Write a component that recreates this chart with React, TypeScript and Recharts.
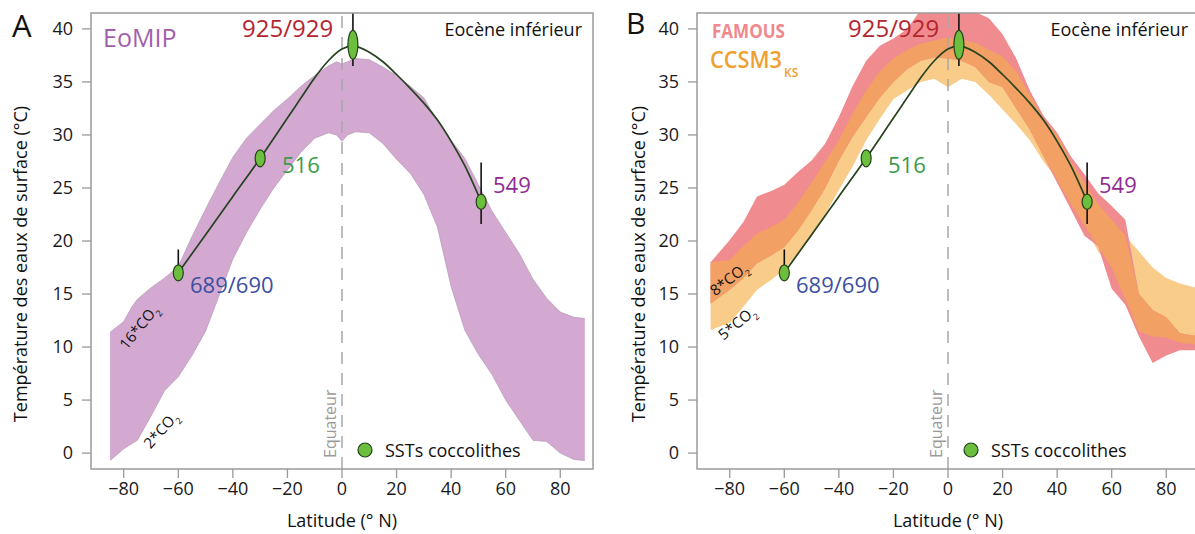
import React from "react";
import {
  ComposedChart,
  Area,
  Line,
  Scatter,
  ErrorBar,
  XAxis,
  YAxis,
  ReferenceLine,
} from "recharts";

const FONT = "'Open Sans', 'Noto Sans', sans-serif";

/* ── Panel A : EoMIP envelope ─────────────────────────────── */
const LAT_A = [-85, -80, -77, -75, -70, -65, -60, -55, -50, -45, -40, -35, -30, -25, -20, -15, -10, -5, -2, 0, 2, 5, 10, 15, 20, 25, 30, 35, 40, 45, 50, 55, 60, 65, 70, 75, 80, 85, 89];
const EOMIP_LOW = [-0.7, 0.4, 0.9, 1.2, 3.5, 5.9, 7.2, 9.2, 11.5, 14.9, 18.3, 20.8, 23.0, 25.0, 26.7, 28.4, 29.7, 30.2, 30.0, 29.4, 30.0, 30.3, 30.2, 29.2, 27.7, 26.4, 24.4, 21.3, 15.7, 11.6, 9.3, 7.4, 5.0, 3.1, 1.2, 1.1, 0.0, -0.6, -0.7];
const EOMIP_HIGH = [11.4, 12.4, 13.8, 14.5, 15.6, 16.5, 17.6, 20.4, 23.0, 25.5, 27.9, 29.7, 31.0, 32.3, 33.4, 34.6, 35.6, 36.5, 36.9, 36.7, 36.9, 37.2, 37.1, 36.4, 35.6, 34.6, 33.5, 31.3, 29.5, 27.8, 25.3, 22.8, 20.8, 18.8, 16.4, 14.6, 13.3, 12.8, 12.7];

/* ── Panel B : FAMOUS and CCSM3 envelopes ─────────────────── */
const LAT_B = [-87, -80, -75, -70, -65, -60, -55, -50, -45, -40, -35, -30, -25, -20, -15, -10, -5, 0, 5, 10, 15, 20, 25, 30, 35, 40, 45, 50, 55, 60, 65, 70, 75, 80, 85, 92];
const FAMOUS_LOW = [14.1, 15.4, 16.5, 17.9, 18.6, 19.4, 21.0, 22.9, 25.0, 27.6, 29.8, 31.7, 33.5, 35.0, 36.2, 37.0, 37.3, 37.2, 37.0, 36.4, 35.0, 34.5, 32.5, 30.5, 28.0, 25.5, 23.0, 20.5, 19.5, 15.5, 14.0, 11.0, 8.5, 9.2, 9.7, 9.7];
const FAMOUS_HIGH = [18.0, 20.1, 21.8, 24.2, 24.7, 25.3, 26.5, 27.6, 29.2, 31.7, 34.6, 37.0, 38.4, 39.1, 40.0, 41.8, 42.5, 42.5, 42.5, 41.6, 41.0, 39.5, 37.2, 34.2, 31.8, 30.2, 28.0, 26.3, 24.5, 23.3, 22.0, 15.0, 13.5, 12.8, 11.3, 11.0];
const CCSM3_LOW = [11.6, 12.3, 13.8, 15.4, 16.3, 17.3, 18.8, 20.4, 22.5, 24.8, 27.0, 29.5, 31.5, 33.4, 34.2, 35.0, 35.3, 34.5, 35.3, 35.0, 33.8, 32.4, 31.0, 29.5, 27.5, 25.8, 23.5, 21.5, 19.0, 17.5, 14.5, 11.5, 11.0, 10.9, 10.4, 10.2];
const CCSM3_HIGH = [18.0, 18.2, 19.5, 20.7, 21.3, 22.0, 23.6, 25.5, 27.5, 29.5, 32.0, 34.2, 36.0, 37.2, 38.0, 38.6, 38.9, 39.2, 39.0, 38.7, 38.0, 37.4, 36.0, 33.8, 31.5, 30.0, 27.5, 25.5, 23.5, 22.0, 20.5, 19.0, 17.5, 16.5, 16.0, 15.5];

/* ── Coccolith SST fit and sites ──────────────────────────── */
const FIT_LAT = [-60, -50, -40, -30, -20, -15, -10, -5, 0, 4, 10, 15, 20, 25, 30, 35, 40, 45, 51];
const FIT_T = [17.0, 20.6, 24.2, 27.8, 31.6, 33.5, 35.4, 37.0, 38.1, 38.4, 37.8, 36.9, 35.7, 34.4, 33.0, 31.4, 29.4, 27.1, 23.7];

const SITES = ["689/690", "516", "925/929", "549"];
const SITE_LAT = [-60, -30, 4, 51];
const SITE_T = [17.0, 27.8, 38.5, 23.7];
const SITE_ERR_LOW = [0, 0, 2.0, 2.1];
const SITE_ERR_HIGH = [2.2, 0, 3.0, 3.7];

const X_TICKS = [-80, -60, -40, -20, 0, 20, 40, 60, 80];
const Y_TICKS = [0, 5, 10, 15, 20, 25, 30, 35, 40];

/* ── styles ───────────────────────────────────────────────── */
const MARKER_RY: Record<string, number> = { "925/929": 14.5, "516": 8.5, "689/690": 8, "549": 7.5 };
const W = 600;
const H = 534;
const PLOT = { left: 91, top: 13, right: 593, bottom: 469 };

const band = (lats: number[], lo: number[], hi: number[]) =>
  lats.map((lat, i) => ({ lat, band: [lo[i], hi[i]] }));

const EOMIP = band(LAT_A, EOMIP_LOW, EOMIP_HIGH);
const FAMOUS = band(LAT_B, FAMOUS_LOW, FAMOUS_HIGH);
const CCSM3 = band(LAT_B, CCSM3_LOW, CCSM3_HIGH);
// where both envelopes cover the same temperatures the colours mix to orange
const OVERLAP = LAT_B.map((lat, i) => {
  const lo = Math.max(FAMOUS_LOW[i], CCSM3_LOW[i]);
  const hi = Math.min(FAMOUS_HIGH[i], CCSM3_HIGH[i]);
  return { lat, band: [lo, Math.max(lo, hi)] };
});
const FIT = FIT_LAT.map((lat, i) => ({ lat, t: FIT_T[i] }));
const POINTS = SITES.map((site, i) => ({
  site,
  lat: SITE_LAT[i],
  t: SITE_T[i],
  err: [SITE_ERR_LOW[i], SITE_ERR_HIGH[i]],
}));

const minus = (v: number) => String(v).replace("-", "\u2212");

const Ellipse = (p: any) => (
  <ellipse
    cx={p.cx}
    cy={p.cy}
    rx={5}
    ry={MARKER_RY[p.payload.site] ?? 8}
    fill="#6cbf3c"
    stroke="#24401c"
    strokeWidth={1.2}
  />
);

function Chart({ children }: { children: React.ReactNode }) {
  return (
    <ComposedChart
      width={W}
      height={H}
      margin={{ top: PLOT.top, right: W - PLOT.right, bottom: 0, left: PLOT.left - 60 }}
      style={{ fontFamily: FONT }}
    >
      <XAxis
        type="number"
        dataKey="lat"
        domain={[-92, 92]}
        ticks={X_TICKS}
        allowDataOverflow
        axisLine={false}
        tickLine={{ stroke: "#999", strokeWidth: 1.3 }}
        tickSize={9}
        tickMargin={4}
        height={H - PLOT.bottom}
        tick={{ fontSize: 18, fill: "#1a1a1a" }}
        tickFormatter={minus}
      />
      <YAxis
        type="number"
        domain={[-1.5, 41.5]}
        ticks={Y_TICKS}
        allowDataOverflow
        axisLine={false}
        tickLine={{ stroke: "#999", strokeWidth: 1.3 }}
        tickSize={9}
        tickMargin={9}
        width={60}
        tick={{ fontSize: 18, fill: "#1a1a1a" }}
      />
      {children}
      <ReferenceLine x={0} stroke="#a8a8a8" strokeWidth={1.5} strokeDasharray="12 9" />
      <Line data={FIT} dataKey="t" type="monotone" stroke="#26421f" strokeWidth={1.7} dot={false} isAnimationActive={false} />
      <Scatter data={POINTS} dataKey="t" shape={() => <g />} isAnimationActive={false}>
        <ErrorBar dataKey="err" direction="y" width={0} stroke="#111" strokeWidth={1.6} />
      </Scatter>
      <Scatter data={POINTS} dataKey="t" shape={Ellipse} isAnimationActive={false} />
    </ComposedChart>
  );
}

function Co2({ x, y, angle, n }: { x: number; y: number; angle: number; n: string }) {
  return (
    <text transform={`translate(${x},${y}) rotate(${angle})`} textAnchor="middle" dy="0.35em" fontSize={15} fill="#111">
      {n}*CO
      <tspan fontSize={9} dy={5}>2</tspan>
    </text>
  );
}

function Common({ yLabelX }: { yLabelX: number }) {
  return (
    <>
      <rect
        x={PLOT.left}
        y={PLOT.top}
        width={PLOT.right - PLOT.left}
        height={PLOT.bottom - PLOT.top}
        fill="none"
        stroke="#9a9a9a"
        strokeWidth={1.5}
      />
      <text x={242} y={37} fontSize={24} fill="#b3262f">925/929</text>
      <text x={282} y={173} fontSize={22} fill="#3a9a4c">516</text>
      <text x={493} y={193} fontSize={22} fill="#8f2c91">549</text>
      <text x={190} y={293} fontSize={22} fill="#3c4f9f">689/690</text>
      <text x={582} y={36} fontSize={18} textAnchor="end" fill="#111">Eocène inférieur</text>
      <text transform="translate(336,458) rotate(-90)" fontSize={16} fill="#9a9a9a">Equateur</text>
      <circle cx={365} cy={450} r={7} fill="#6cbf3c" stroke="#24401c" strokeWidth={1.2} />
      <text x={385} y={457} fontSize={18} fill="#111">SSTs coccolithes</text>
      <text x={342} y={527} fontSize={18} textAnchor="middle" fill="#111">Latitude (° N)</text>
      <text transform={`translate(${yLabelX},264) rotate(-90)`} fontSize={18} textAnchor="middle" fill="#111">
        Température des eaux de surface (°C)
      </text>
    </>
  );
}

function Overlay({ children }: { children: React.ReactNode }) {
  return (
    <svg
      width={W}
      height={H}
      style={{ position: "absolute", left: 0, top: 0, pointerEvents: "none", fontFamily: FONT }}
    >
      {children}
    </svg>
  );
}

export default function App() {
  return (
    <div style={{ position: "absolute", left: 0, top: 0, width: 1195, height: 534, overflow: "hidden", background: "#fff" }}>
      {/* Panel A */}
      <div style={{ position: "absolute", left: 0, top: 0, width: W, height: H }}>
        <Chart>
          <Area data={EOMIP} dataKey="band" type="linear" fill="#d3a9d1" fillOpacity={1} stroke="#b596b4" strokeWidth={0.7} isAnimationActive={false} />
        </Chart>
        <Overlay>
          <Common yLabelX={27} />
          <text x={12} y={37} fontSize={31} fill="#111">A</text>
          <text x={103} y={47} fontSize={25} fill="#a35fad">EoMIP</text>
          <Co2 x={139} y={327} angle={-51} n="16" />
          <Co2 x={161} y={430} angle={-48} n="2" />
        </Overlay>
      </div>

      {/* Panel B */}
      <div style={{ position: "absolute", left: 606, top: 0, width: W, height: H }}>
        <Chart>
          <Area data={CCSM3} dataKey="band" type="linear" fill="#f9cc8a" fillOpacity={1} stroke="none" isAnimationActive={false} />
          <Area data={FAMOUS} dataKey="band" type="linear" fill="#f08c90" fillOpacity={1} stroke="none" isAnimationActive={false} />
          <Area data={OVERLAP} dataKey="band" type="linear" fill="#f2a063" fillOpacity={1} stroke="none" isAnimationActive={false} />
        </Chart>
        <Overlay>
          <Common yLabelX={39} />
          <text x={20} y={34} fontSize={30} fill="#111">B</text>
          <text x={106} y={38} fontSize={20} fontWeight={700} fill="#f0888e" textLength={73} lengthAdjust="spacingAndGlyphs">FAMOUS</text>
          <text x={104} y={68} fontSize={23} fontWeight={600} fill="#f0a030" textLength={72} lengthAdjust="spacingAndGlyphs">CCSM3</text>
          <text x={178} y={77} fontSize={12} fontWeight={600} fill="#f0a030">KS</text>
          <Co2 x={123} y={279} angle={-38} n="8" />
          <Co2 x={131} y={323} angle={-39} n="5" />
        </Overlay>
      </div>
    </div>
  );
}
